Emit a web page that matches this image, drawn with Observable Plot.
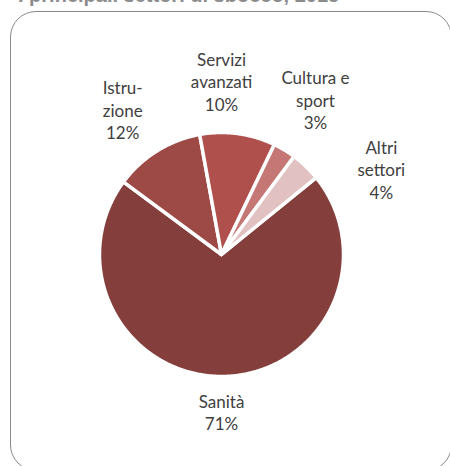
<!DOCTYPE html>
<html>
<head>
<meta charset="utf-8">
<script src="https://cdn.jsdelivr.net/npm/d3@7"></script>
<script src="https://cdn.jsdelivr.net/npm/@observablehq/plot@0.6"></script>
<style>
  html, body { margin: 0; padding: 0; background: #fff; }
  #wrap { position: relative; width: 450px; height: 466px; overflow: hidden; }
  #title { position: absolute; left: 18px; top: -16px; font: bold 20px "Liberation Sans", Arial, sans-serif; color: #8c8c8c; white-space: nowrap; }
  #frame { position: absolute; left: 10px; top: 11px; width: 440px; height: 458px; border: 1.5px solid #8a8a8a; border-radius: 26px; }
  #chart { position: absolute; left: 0; top: 0; }
</style>
</head>
<body>
<div id="wrap">
  <div id="title">I principali settori di sbocco, 2015</div>
  <div id="frame"></div>
  <div id="chart"></div>
</div>
<script>
// Data
const categories = ["Sanità", "Istruzione", "Servizi avanzati", "Cultura e sport", "Altri settori"];
const values = [71, 12, 10, 3, 4];
const labelLines = ["Sanità\n71%", "Istru-\nzione\n12%", "Servizi\navanzati\n10%", "Cultura e\nsport\n3%", "Altri\nsettori\n4%"];

// Styles / layout (kept separate from data)
const colors = ["#843f3d", "#9d4946", "#b0504d", "#c47775", "#e1c1c1"];
const startDeg = 50.9;
const labelPos = [[0.0, -1.29], [-0.81, 1.19], [0.0, 1.42], [0.77, 1.27], [1.31, 0.70]];

const rows = categories.map((c, i) => ({name: c, value: values[i]}));
const arcs = d3.pie().sort(null).value(d => d.value)
  .startAngle(startDeg * Math.PI / 180)
  .endAngle(startDeg * Math.PI / 180 + 2 * Math.PI)(rows);

// Build slice outlines on the unit circle (geometry only)
const pts = [];
for (const a of arcs) {
  const name = a.data.name;
  pts.push({name, x: 0, y: 0});
  const n = Math.max(4, Math.ceil((a.endAngle - a.startAngle) / (Math.PI / 360)));
  for (let k = 0; k <= n; k++) {
    const t = a.startAngle + (a.endAngle - a.startAngle) * k / n;
    pts.push({name, x: Math.sin(t), y: Math.cos(t)});
  }
  pts.push({name, x: 0, y: 0});
}

const labels = categories.map((c, i) => ({name: c, text: labelLines[i], x: labelPos[i][0], y: labelPos[i][1]}));

const chart = Plot.plot({
  width: 450,
  height: 466,
  margin: 0,
  style: {background: "transparent", overflow: "visible"},
  x: {domain: [-1, 1], range: [99, 343], axis: null},
  y: {domain: [1, -1], range: [132, 376], axis: null},
  color: {domain: categories, range: colors},
  marks: [
    Plot.line(pts, {x: "x", y: "y", z: "name", fill: "name", stroke: "white", strokeWidth: 3.5, strokeLinejoin: "round", curve: "linear"}),
    Plot.text(labels, {x: "x", y: "y", text: "text", lineHeight: 1.32, fontSize: 17, fill: "#404040", fontFamily: "Lato, 'Open Sans', sans-serif", textAnchor: "middle", lineAnchor: "middle"})
  ]
});
document.getElementById("chart").appendChild(chart);
</script>
</body>
</html>
